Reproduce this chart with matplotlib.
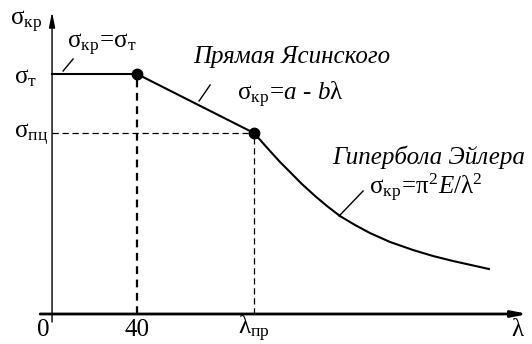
import matplotlib.pyplot as plt

plt.rcParams['font.family'] = ['Liberation Serif', 'DejaVu Serif']
plt.rcParams['mathtext.fontset'] = 'custom'
plt.rcParams['mathtext.rm'] = 'Liberation Serif'
plt.rcParams['mathtext.it'] = 'Liberation Serif:italic'
plt.rcParams['mathtext.bf'] = 'Liberation Serif:bold'

# характерные точки диаграммы
lam_40 = 40
lam_pr = 95
sigma_t = 240
sigma_pc = 181

# участок Ясинского
yas_lam = [lam_40, lam_pr]
yas_sigma = [sigma_t, sigma_pc]

# гипербола Эйлера (снята по точкам)
eul_lam = [95.1, 98.8, 102.6, 107.3, 112.0, 117.6, 123.8, 129.4, 135.5,
           142.6, 149.6, 159.1, 169.9, 179.3, 188.7, 197.2, 205.6]
eul_sigma = [181, 172, 163, 152, 142, 130, 118, 108, 98,
             89, 81, 72, 64, 58, 53, 49, 45]

fig = plt.figure(figsize=(5.32, 3.44), dpi=100)
ax = fig.add_axes([0, 0, 1, 1])
ax.set_xlim(-24.5, 225.9)
ax.set_ylim(-30, 314)
ax.axis('off')

# оси
ax.annotate('', xy=(224, 0), xytext=(-5.6, 0),
            arrowprops=dict(arrowstyle='-|>,head_length=0.9,head_width=0.18',
                            lw=2, color='black', shrinkA=0, shrinkB=0))
ax.annotate('', xy=(0, 302), xytext=(0, -8),
            arrowprops=dict(arrowstyle='-|>,head_length=0.9,head_width=0.18',
                            lw=1, color='black', shrinkA=0, shrinkB=0))

# пунктирные линии
ax.plot([lam_40, lam_40], [0, sigma_t], ls=(0, (3.5, 2.5)), lw=1.6, color='black')
ax.plot([lam_pr, lam_pr], [0, sigma_pc], ls=(0, (5, 3)), lw=0.9, color='black')
ax.plot([0, lam_pr], [sigma_pc, sigma_pc], ls=(0, (5, 3)), lw=0.9, color='black')

# диаграмма критических напряжений
ax.plot([0, lam_40], [sigma_t, sigma_t], lw=1.5, color='black')
ax.plot(yas_lam, yas_sigma, lw=1.5, color='black')
ax.plot(eul_lam, eul_sigma, lw=1.5, color='black', solid_joinstyle='round')
ax.plot([lam_40, lam_pr], [sigma_t, sigma_pc], 'o', ms=7.5, color='black')

fs = 18
# подписи осей
ax.text(-19.8, 292, r'$\mathrm{σ}_\mathrm{кр}$', fontsize=fs, ha='left', va='center')
ax.text(-7, sigma_t - 4, r'$\mathrm{σ}_\mathrm{т}$', fontsize=fs, ha='right', va='center')
ax.text(-2, sigma_pc - 2, r'$\mathrm{σ}_\mathrm{пц}$', fontsize=fs, ha='right', va='center')
ax.text(-4.2, -16, '0', fontsize=fs, ha='center', va='center')
ax.text(lam_40, -16, '40', fontsize=fs, ha='center', va='center')
ax.text(lam_pr, -15, r'$\mathrm{λ}_\mathrm{пр}$', fontsize=fs, ha='center', va='center')
ax.text(219.5, -16, r'$\mathrm{λ}$', fontsize=fs, ha='center', va='center')

# формулы и выноски
ax.text(23.5, 269, r'$\mathrm{σ}_\mathrm{кр}\!=\!\mathrm{σ}_\mathrm{т}$', fontsize=fs,
        ha='center', va='center')
ax.plot([5.2, 9.9], [243, 255], lw=1, color='black')

ax.text(113, 257, 'Прямая Ясинского', fontsize=fs, style='italic',
        ha='center', va='center')
ax.text(112, 219, r'$\mathrm{σ}_\mathrm{кр}\!=\!\mathit{a}\text{ - }\mathit{b}\mathrm{λ}$',
        fontsize=fs, ha='center', va='center')
ax.plot([74.4, 69.2], [229, 213], lw=1, color='black')

ax.text(177.4, 157, 'Гипербола Эйлера', fontsize=fs, style='italic',
        ha='center', va='center')
ax.text(176, 126, r'$\mathrm{σ}_\mathrm{кр}\!=\!\mathrm{π}^\mathrm{2}\mathit{E}\mathrm{/λ}^\mathrm{2}$',
        fontsize=fs, ha='center', va='center')
ax.plot([146.4, 135.1], [123, 98], lw=1, color='black')

fig.savefig('out.png', dpi=100)
